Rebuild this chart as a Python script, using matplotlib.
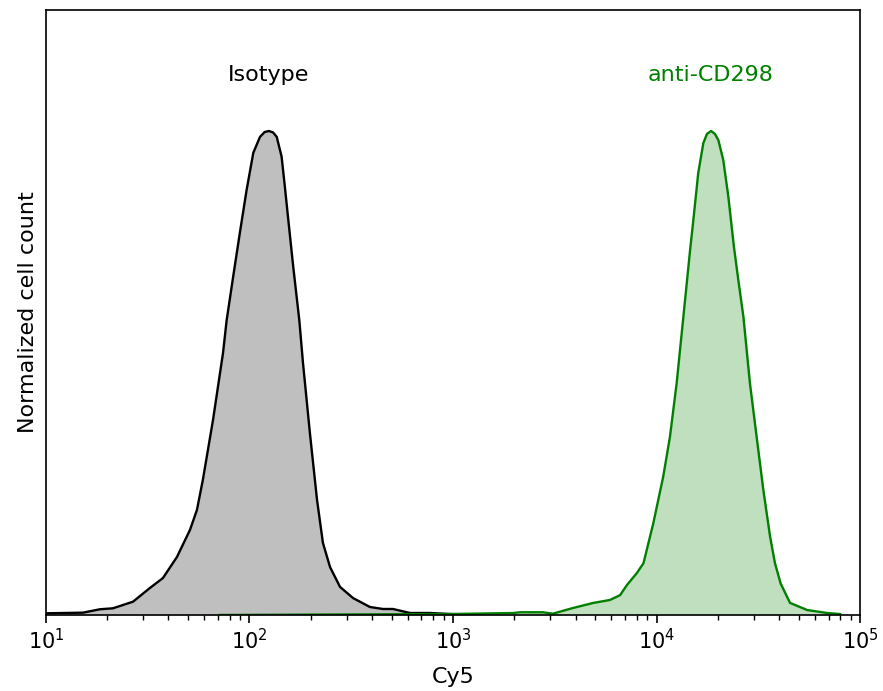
import numpy as np
import matplotlib
matplotlib.use("Agg")
import matplotlib.pyplot as plt

# Isotype control histogram (log10 Cy5 intensity, normalized count)
iso_log = [1.0, 1.003, 1.182, 1.265, 1.329, 1.428, 1.511, 1.575, 1.644, 1.708, 1.742,
           1.771, 1.821, 1.870, 1.888, 1.920, 1.953, 1.986, 2.019, 2.052, 2.075,
           2.096, 2.116, 2.134, 2.158, 2.174, 2.191, 2.215, 2.245, 2.263, 2.297,
           2.332, 2.361, 2.396, 2.445, 2.509, 2.592, 2.656, 2.705, 2.789, 2.887,
           2.985, 3.13]
iso_count = [0.003, 0.0035, 0.0048, 0.0118, 0.0138, 0.0275, 0.0558, 0.0764, 0.120, 0.176, 0.217,
             0.279, 0.403, 0.541, 0.609, 0.699, 0.790, 0.878, 0.955, 0.988, 0.998,
             1.000, 0.997, 0.988, 0.947, 0.885, 0.816, 0.720, 0.609, 0.521, 0.376,
             0.238, 0.149, 0.099, 0.058, 0.035, 0.0165, 0.0124, 0.0124, 0.0041, 0.0041,
             0.002, 0.0]

# anti-CD298 stained histogram
cd_log = [1.855, 2.985, 3.295, 3.329, 3.442, 3.491, 3.590, 3.688, 3.771, 3.821, 3.855,
          3.904, 3.936, 3.984, 4.033, 4.066, 4.099, 4.132, 4.165, 4.181, 4.205,
          4.230, 4.248, 4.268, 4.287, 4.304, 4.328, 4.353, 4.380, 4.402, 4.427,
          4.459, 4.492, 4.525, 4.558, 4.582, 4.610, 4.656, 4.740, 4.838, 4.902]
cd_count = [0.0, 0.002, 0.004, 0.0056, 0.0056, 0.0027, 0.0145, 0.0248, 0.031, 0.041, 0.062,
            0.087, 0.107, 0.189, 0.286, 0.368, 0.479, 0.616, 0.754, 0.816, 0.913,
            0.975, 0.994, 1.000, 0.994, 0.981, 0.940, 0.864, 0.762, 0.692, 0.616,
            0.479, 0.368, 0.258, 0.162, 0.107, 0.065, 0.025, 0.0103, 0.0041, 0.002]

labels = ["Isotype", "anti-CD298"]
colors = ["black", "green"]

fig = plt.figure(figsize=(8.83, 6.91), dpi=100)
ax = fig.add_axes([0.052, 0.110, 0.922, 0.8755])

for lg, cnt, col in [(iso_log, iso_count, colors[0]), (cd_log, cd_count, colors[1])]:
    xv = 10 ** np.array(lg)
    ax.fill_between(xv, cnt, 0, color=col, alpha=0.25, linewidth=0)
    ax.plot(xv, cnt, color=col, linewidth=1.7, solid_joinstyle="round")

ax.set_xscale("log")
ax.set_xlim(10, 1e5)
ax.set_ylim(0, 1.25)
ax.set_yticks([])

peak_iso = 10 ** iso_log[int(np.argmax(iso_count))]
peak_cd = 10 ** cd_log[int(np.argmax(cd_count))]
ax.text(peak_iso, 1.116, labels[0], color=colors[0], ha="center", va="center", fontsize=16)
ax.text(peak_cd, 1.116, labels[1], color=colors[1], ha="center", va="center", fontsize=16)

ax.tick_params(axis="x", which="major", labelsize=15, length=6, width=1.2)
ax.tick_params(axis="x", which="minor", length=3.5, width=1)
ax.set_xlabel("Cy5", fontsize=16, labelpad=10)
ax.set_ylabel("Normalized cell count", fontsize=16, labelpad=6)
for s in ax.spines.values():
    s.set_linewidth(1.2)

fig.savefig("out.png", dpi=100)
